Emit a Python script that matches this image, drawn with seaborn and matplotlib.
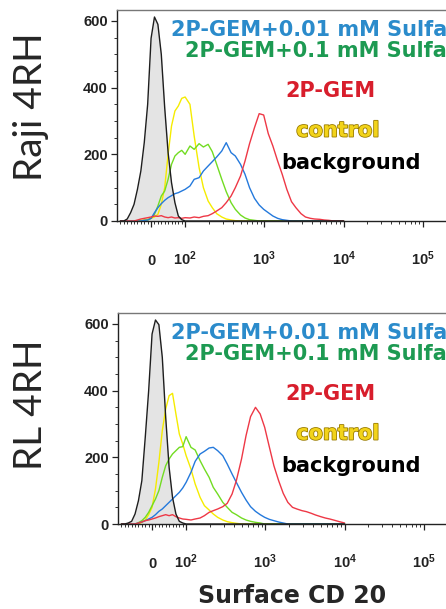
import matplotlib
matplotlib.use("Agg")
import matplotlib.pyplot as plt
import matplotlib.patheffects as pe
import matplotlib.transforms as mtransforms
from matplotlib.ticker import FixedLocator, MultipleLocator
import pandas as pd
import seaborn as sns

# Histogram bin centres (fluorescence intensity, biexponential display)
intensity = [-90, -80, -70, -60, -50, -40, -30, -20, -10, 0,
             10, 20, 30, 40, 50, 60, 70, 80, 90, 100,
             115, 130, 150, 170, 195, 220, 250, 290, 330, 380,
             430, 500, 570, 650, 750, 860, 980, 1120, 1280, 1470,
             1680, 1920, 2200, 2500, 2900, 3300, 3800, 4300, 5000, 5700,
             6500, 7500, 8600, 10000]

# Raji 4RH event counts per bin
raji_background = [0, 0, 6, 25, 50, 95, 150, 235, 350, 548,
                   612, 590, 500, 340, 205, 115, 55, 15, 4, 0,
                   0, 0, 0, 0, 0, 0, 0, 0, 0, 0,
                   0, 0, 0, 0, 0, 0, 0, 0, 0, 0,
                   0, 0, 0, 0, 0, 0, 0, 0, 0, 0,
                   0, 0, 0, 0]
raji_control = [0, 0, 0, 0, 0, 0, 2, 3, 5, 8,
                12, 20, 50, 100, 200, 285, 330, 345, 368, 372,
                350, 255, 160, 100, 60, 40, 22, 12, 6, 3,
                1, 0, 0, 0, 0, 0, 0, 0, 0, 0,
                0, 0, 0, 0, 0, 0, 0, 0, 0, 0,
                0, 0, 0, 0]
raji_sulfa_01 = [0, 0, 0, 0, 0, 0, 0, 2, 3, 8,
                 20, 45, 75, 90, 125, 170, 195, 205, 212, 200,
                 225, 215, 232, 222, 230, 208, 170, 125, 88, 55,
                 35, 18, 9, 4, 2, 0, 0, 0, 0, 0,
                 0, 0, 0, 0, 0, 0, 0, 0, 0, 0,
                 0, 0, 0, 0]
raji_sulfa_001 = [0, 0, 0, 0, 0, 0, 0, 2, 3, 8,
                  25, 40, 52, 62, 70, 76, 82, 85, 90, 95,
                  105, 125, 130, 150, 165, 178, 192, 210, 235, 205,
                  195, 170, 140, 100, 68, 48, 35, 25, 15, 8,
                  4, 2, 0, 0, 0, 0, 0, 0, 0, 0,
                  0, 0, 0, 0]
raji_gem = [0, 0, 0, 0, 0, 3, 6, 8, 10, 12,
            15, 14, 16, 12, 10, 12, 9, 10, 8, 10,
            9, 12, 10, 14, 16, 22, 30, 40, 55, 75,
            100, 135, 180, 232, 280, 322, 318, 262, 225, 180,
            140, 95, 58, 40, 22, 12, 8, 6, 5, 3,
            2, 0, 0, 0]

# RL 4RH event counts per bin
rl_background = [0, 0, 3, 8, 30, 70, 130, 260, 400, 570,
                 612, 598, 500, 320, 170, 80, 30, 8, 3, 0,
                 0, 0, 0, 0, 0, 0, 0, 0, 0, 0,
                 0, 0, 0, 0, 0, 0, 0, 0, 0, 0,
                 0, 0, 0, 0, 0, 0, 0, 0, 0, 0,
                 0, 0, 0, 0]
rl_control = [0, 0, 0, 0, 0, 0, 5, 12, 28, 50,
              105, 185, 280, 345, 385, 392, 330, 270, 240, 205,
              165, 120, 80, 55, 42, 30, 20, 12, 7, 4,
              2, 0, 0, 0, 0, 0, 0, 0, 0, 0,
              0, 0, 0, 0, 0, 0, 0, 0, 0, 0,
              0, 0, 0, 0]
rl_sulfa_01 = [0, 0, 0, 0, 0, 4, 10, 20, 35, 55,
               75, 100, 140, 175, 195, 210, 220, 230, 232, 262,
               230, 222, 190, 165, 140, 110, 90, 65, 50, 35,
               28, 18, 12, 8, 5, 3, 0, 0, 0, 0,
               0, 0, 0, 0, 0, 0, 0, 0, 0, 0,
               0, 0, 0, 0]
rl_sulfa_001 = [0, 0, 0, 0, 0, 3, 6, 10, 15, 20,
                28, 38, 45, 55, 65, 75, 85, 95, 108, 125,
                155, 188, 210, 218, 228, 230, 220, 205, 180, 150,
                125, 95, 72, 52, 38, 28, 20, 14, 10, 6,
                3, 0, 0, 0, 0, 0, 0, 0, 0, 0,
                0, 0, 0, 0]
rl_gem = [0, 0, 0, 0, 0, 3, 6, 10, 12, 15,
          18, 22, 25, 28, 25, 28, 22, 18, 15, 14,
          12, 15, 18, 25, 35, 40, 45, 52, 62, 90,
          130, 195, 265, 322, 350, 330, 290, 232, 175, 130,
          92, 65, 50, 45, 40, 37, 32, 27, 22, 18,
          15, 11, 7, 3]

samples = ["control", "2P-GEM+0.1 mM Sulfa",
           "2P-GEM+0.01 mM Sulfa", "2P-GEM", "background"]
line_colors = ["#f5ec00", "#72dc22", "#2479dc", "#ee3846", "#1e1e1e"]
cell_lines = ["Raji 4RH", "RL 4RH"]
y_ticks = [0, 200, 400, 600]
x_ticks = [0, 100, 1000, 10000, 100000]
x_tick_labels = ["0", "$10^{2}$", "$10^{3}$", "$10^{4}$", "$10^{5}$"]
x_title = "Surface CD 20"

panels = [
    [raji_control, raji_sulfa_01, raji_sulfa_001, raji_gem, raji_background],
    [rl_control, rl_sulfa_01, rl_sulfa_001, rl_gem, rl_background],
]

sns.set_style("ticks")
plt.rcParams["font.family"] = ["Liberation Sans", "DejaVu Sans"]
plt.rcParams["mathtext.default"] = "regular"

fig = plt.figure(figsize=(4.46, 6.09), dpi=100)
W, H = 446.0, 609.0

# axes boxes in pixels: left, top, width, height
boxes = [(117, 10, 339, 211), (118, 313, 339, 211)]
label_centres = [107, 405]

minor_x = ([v for v in range(-90, 100, 10) if v != 0] +
           [m * 10 ** e for e in (2, 3, 4, 5) for m in range(2, 10)
            if m * 10 ** e < 262144])

legend_spec = [
    # text, colour, x (figure px), baseline (axes frac), ha
    ("2P-GEM+0.01 mM Sulfa", "#2b8bcb", 171, 0.879, "left"),
    ("2P-GEM+0.1 mM Sulfa", "#1d9a52", 185, 0.779, "left"),
    ("2P-GEM", "#d81e2c", 330.5, 0.589, "center"),
    ("control", "#f2d31a", 338, 0.400, "center"),
    ("background", "#000000", 351, 0.246, "center"),
]

for (left, top, w, h), counts, name, yc in zip(boxes, panels, cell_lines,
                                                label_centres):
    ax = fig.add_axes([left / W, 1 - (top + h) / H, w / W, h / H])
    ax.set_xscale("symlog", linthresh=100, linscale=0.387, base=10)

    rows = []
    for s, c in zip(samples, counts):
        for xv, yv in zip(intensity, c):
            rows.append({"intensity": xv, "count": yv, "sample": s})
    df = pd.DataFrame(rows)

    bg = df[df["sample"] == "background"]
    ax.fill_between(bg["intensity"], 0, bg["count"], color="#e4e4e4",
                    lw=0, zorder=1)
    sns.lineplot(data=df, x="intensity", y="count", hue="sample",
                 hue_order=samples, palette=line_colors, estimator=None,
                 sort=False, legend=False, lw=1.0, ax=ax, zorder=2)

    ax.set_xlim(-100, 262144)
    ax.set_ylim(0, 633)
    ax.set_xlabel("")
    ax.set_ylabel("")

    ax.xaxis.set_major_locator(FixedLocator(x_ticks))
    ax.set_xticklabels(x_tick_labels)
    ax.xaxis.set_minor_locator(FixedLocator(minor_x))
    ax.yaxis.set_major_locator(FixedLocator(y_ticks))
    ax.yaxis.set_minor_locator(MultipleLocator(50))

    ax.tick_params(axis="x", which="major", direction="out", length=4.5,
                   width=0.9, pad=27, labelsize=10.5, colors="#222222")
    ax.tick_params(axis="x", which="minor", direction="out", length=2.2,
                   width=0.7, colors="#333333")
    ax.tick_params(axis="y", which="major", direction="out", length=4.5,
                   width=0.9, pad=2, labelsize=10.5, colors="#222222")
    ax.tick_params(axis="y", which="minor", direction="out", length=2.2,
                   width=0.7, colors="#333333")
    for lab in ax.get_xticklabels() + ax.get_yticklabels():
        lab.set_fontweight("bold")
    for lab in ax.get_xticklabels():
        lab.set_verticalalignment("baseline")

    for side in ("left", "bottom"):
        ax.spines[side].set_color("#222222")
        ax.spines[side].set_linewidth(1.0)
    ax.spines["top"].set_color("#777777")
    ax.spines["top"].set_linewidth(1.0)
    ax.spines["right"].set_color("#777777")

    mixed = mtransforms.blended_transform_factory(fig.transFigure,
                                                  ax.transAxes)
    for text, color, xp, yf, ha in legend_spec:
        t = ax.text(xp / W, yf, text, color=color, transform=mixed,
                    ha=ha, va="baseline", fontsize=15, fontweight="bold",
                    family="DejaVu Sans", zorder=5, clip_on=False)
        if text == "control":
            t.set_path_effects([pe.withStroke(linewidth=1.2,
                                              foreground="#9a7c00")])

    fig.text(31 / W, 1 - yc / H, name, rotation=90, ha="center",
             va="center", fontsize=28, family="Lato")

fig.text(292 / W, 1 - 603 / H, x_title, ha="center", va="baseline",
         fontsize=17, fontweight="bold", family="DejaVu Sans")

fig.savefig("out.png", dpi=100)
